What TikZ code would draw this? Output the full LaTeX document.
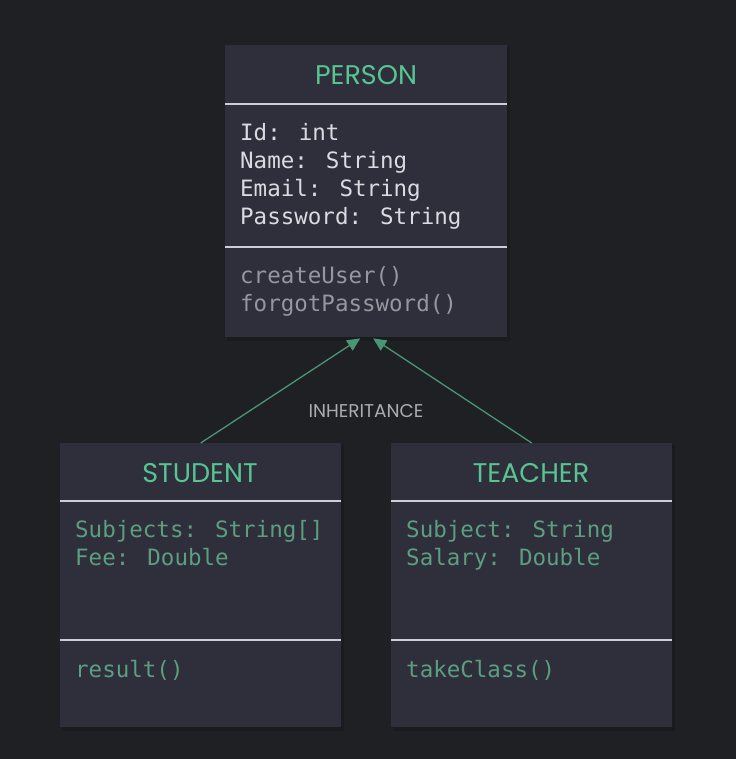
\documentclass[tikz,border=0pt]{standalone}
\usepackage{fontspec}
\setmainfont{Poppins}
\newfontfamily\monof{DejaVu Sans Mono}
\usetikzlibrary{arrows.meta,calc}
\definecolor{bgc}{RGB}{31,32,35}
\definecolor{boxc}{RGB}{47,47,60}
\definecolor{titlec}{RGB}{88,196,146}
\definecolor{attrg}{RGB}{92,158,128}
\definecolor{lightt}{RGB}{218,218,224}
\definecolor{methg}{RGB}{150,150,158}
\definecolor{sepc}{RGB}{205,205,212}
\definecolor{arrc}{RGB}{72,150,115}
\definecolor{labc}{RGB}{172,172,176}
\tikzset{
  umlbox/.style={fill=boxc, draw=none, inner sep=0pt, minimum width=282pt, anchor=north west},
  shadowbox/.style={fill=black, opacity=0.15, draw=none},
  titletext/.style={text=titlec, font=\fontsize{27}{30}\selectfont, inner sep=0pt},
  membtext/.style={font=\monof\fontsize{22.5}{28}\selectfont, inner sep=0pt, anchor=north west, align=left},
  sepline/.style={draw=sepc, line width=1.6pt},
  inh/.style={draw=arrc, line width=1.3pt, -{Triangle[length=13pt,width=12pt]}},
}
\begin{document}
\begin{tikzpicture}[x=1pt,y=-1pt]
\fill[bgc] (0,0) rectangle (736,759);
\useasboundingbox (0,0) rectangle (736,759);
% shadows
\fill[shadowbox] (227,47) rectangle (510,341);
\fill[shadowbox] (62,445) rectangle (344,731);
\fill[shadowbox] (393,445) rectangle (675,731);
% boxes
\node[umlbox, minimum width=282pt, minimum height=292pt] (person) at (225,45) {};
\node[umlbox, minimum width=281pt, minimum height=284pt] (student) at (60,443) {};
\node[umlbox, minimum width=281pt, minimum height=284pt] (teacher) at (391,443) {};
% PERSON
\node[titletext] (ptitle) at (366,75) {PERSON};
\draw[sepline] (225,104) -- (507,104);
\node[membtext, text=lightt] (pattr) at (240,123) {Id: int\\Name: String\\Email: String\\Password: String};
\draw[sepline] (225,247) -- (507,247);
\node[membtext, text=methg] (pmeth) at (240,266) {createUser()\\forgotPassword()};
% STUDENT
\node[titletext] (stitle) at (200,473) {STUDENT};
\draw[sepline] (60,501) -- (341,501);
\node[membtext, text=attrg] (sattr) at (75,520) {Subjects: String[]\\Fee: Double};
\draw[sepline] (60,640) -- (341,640);
\node[membtext, text=attrg] (smeth) at (75,660) {result()};
% TEACHER
\node[titletext] (ttitle) at (531,473) {TEACHER};
\draw[sepline] (391,501) -- (672,501);
\node[membtext, text=attrg] (tattr) at (406,520) {Subject: String\\Salary: Double};
\draw[sepline] (391,640) -- (672,640);
\node[membtext, text=attrg] (tmeth) at (406,660) {takeClass()};
% arrows
\coordinate (pl) at ($(person.south)+(-6,1)$);
\coordinate (pr) at ($(person.south)+(7,1)$);
\coordinate (sn) at ($(student.north)+(0,0)$);
\coordinate (tn) at ($(teacher.north)+(0,0)$);
\draw[inh] (sn) -- (pl);
\draw[inh] (tn) -- (pr);
\node[text=labc, font=\fontsize{18.5}{20}\selectfont, inner sep=0pt] (inhlab) at (366,411) {INHERITANCE};
\end{tikzpicture}
\end{document}
